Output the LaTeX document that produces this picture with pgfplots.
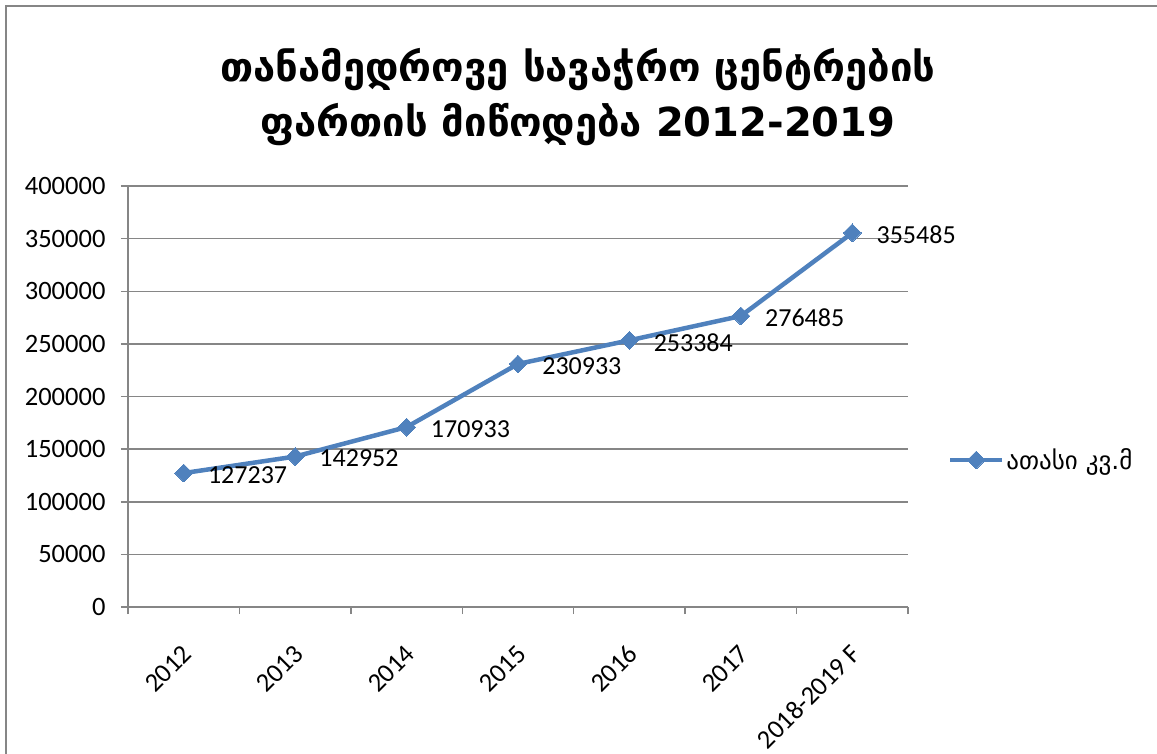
\documentclass[border=0pt]{standalone}
\usepackage{fontspec}
\setmainfont{Carlito}
\newfontfamily\geo{DejaVu Sans}
\usepackage{pgfplots}
\usepackage{pgfplotstable}
\pgfplotsset{compat=1.18}
\definecolor{xlblue}{RGB}{79,129,189}
\definecolor{axgray}{RGB}{134,134,134}

\pgfplotstableread{
x y lab
0 127237 127237
1 142952 142952
2 170933 170933
3 230933 230933
4 253384 253384
5 276485 276485
6 355485 355485
}\supply

\begin{document}
\begin{tikzpicture}
\path[use as bounding box] (0pt,0pt) rectangle (1157pt,-754pt);
\draw[axgray, line width=2pt] (6pt,-760pt) -- (6pt,-6pt) -- (1165pt,-6pt);

\node[font=\geo\bfseries\fontsize{40}{55}\selectfont, align=center] at (578pt,-97pt)
  {თანამედროვე სავაჭრო ცენტრების\\ფართის მიწოდება 2012-2019};

\begin{axis}[
  at={(128pt,-607pt)}, anchor=south west,
  scale only axis, width=780pt, height=421pt,
  xmin=-0.5, xmax=6.5, ymin=0, ymax=400000,
  xtick={0,...,6},
  xticklabels={2012,2013,2014,2015,2016,2017,2018-2019 F},
  minor xtick={-0.5,0.5,...,6.5},
  ytick={0,50000,...,400000},
  scaled y ticks=false,
  /pgf/number format/assume math mode=true,
  yticklabel style={/pgf/number format/fixed, /pgf/number format/1000 sep={}, xshift=-12pt},
  ticklabel style={font=\fontsize{26.5}{30}\selectfont},
  xticklabel style={xshift=6pt, yshift=-33pt, rotate=45, anchor=east},
  axis lines=left,
  axis line style={-, draw=axgray, line width=1.5pt},
  ymajorgrids,
  grid style={draw=axgray, line width=1.5pt},
  tick align=outside,
  major tick length=7pt, minor tick length=7pt,
  tick style={draw=axgray, line width=1.5pt},
  major x tick style={draw=none},
  clip=false,
  legend style={at={(1.051,0.349)}, anchor=west, draw=none, fill=none,
    font=\geo\fontsize{25}{30}\selectfont, inner sep=0pt},
  legend cell align=left,
  legend image code/.code={\draw[mark repeat=2,mark phase=2] plot coordinates {(0pt,0pt) (26pt,0pt) (52pt,0pt)};},
]
\addplot[xlblue, line width=4.5pt, mark=square*, mark size=6.3pt,
  mark options={rotate=45, line width=0pt},
  point meta=explicit symbolic,
  nodes near coords,
  every node near coord/.append style={anchor=west, xshift=21pt, yshift=-2pt,
    black, font=\fontsize{26}{30}\selectfont}]
  table[x=x, y=y, meta=lab] {\supply};
\addlegendentry{ათასი კვ.მ}
\end{axis}
\end{tikzpicture}
\end{document}
